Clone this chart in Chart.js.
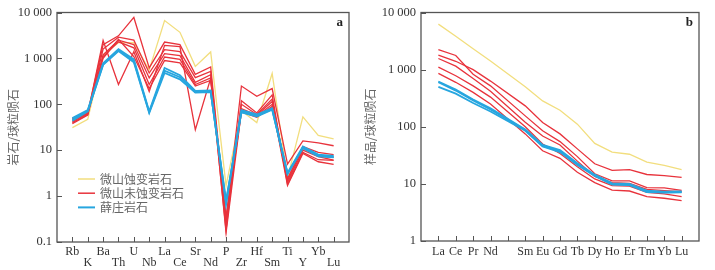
<!DOCTYPE html>
<html>
<head>
<meta charset="utf-8">
<title>微山 / 薛庄 岩石 微量元素蛛网图与稀土配分图</title>
<script src="https://cdn.jsdelivr.net/npm/chart.js@4.4.1/dist/chart.umd.min.js"></script>
<style>
  body { margin: 0; background: #fff; }
  #wrap { position: relative; width: 715px; height: 270px; }
  #spider { position: absolute; left: 0; top: 0; }
  #ree { position: absolute; left: 355px; top: 0; }
</style>
</head>
<body>
<div id="wrap">
  <canvas id="spider" width="355" height="270"></canvas>
  <canvas id="ree" width="360" height="270"></canvas>
</div>
<script>
/* Javascript for the two chondrite-normalised plots
******************************************
*/

// panel a: spider diagram
const spiderElements = ['Rb', 'K', 'Ba', 'Th', 'U', 'Nb', 'La', 'Ce', 'Sr', 'Nd', 'P', 'Zr', 'Hf', 'Sm', 'Ti', 'Y', 'Yb', 'Lu'];
const spiderTicks = [0.1, 1, 10, 100, 1000, 10000];

const weishanAltSpider = [31, 47, 1200, 2200, 2200, 560, 6700, 3700, 670, 1380, 1.7, 72, 40, 470, 2.5, 53, 21, 17.6];
const weishanFreshSpider = [
    [50, 65, 2000, 3100, 7800, 620, 2270, 2000, 450, 650, 0.3, 250, 150, 220, 5, 16, 14.5, 12.5],
    [45, 62, 2450, 270, 1400, 190, 1920, 1800, 28, 370, 0.18, 120, 65, 160, 1.8, 9, 6.2, 6],
    [40, 60, 1600, 2900, 2500, 480, 1550, 1400, 380, 520, 0.25, 100, 60, 130, 2, 10, 7.2, 6.1],
    [38, 58, 1200, 2500, 2000, 375, 1270, 1150, 300, 440, 0.16, 72, 55, 100, 1.7, 8.5, 5.6, 4.9],
    [42, 64, 1100, 2300, 1700, 270, 1070, 950, 270, 375, 0.3, 68, 52, 90, 2.2, 11, 7.5, 7],
    [48, 66, 1000, 2600, 1100, 220, 900, 800, 250, 330, 0.35, 80, 58, 115, 2.4, 12, 9, 8]
];
const xuezhuangSpider = [
    [50, 75, 780, 1600, 950, 70, 620, 430, 195, 200, 0.65, 75, 60, 82, 3.2, 12, 8, 7.5],
    [46, 72, 740, 1500, 880, 67, 540, 390, 185, 190, 0.75, 70, 56, 78, 3.0, 11.5, 7.6, 7.2],
    [44, 70, 720, 1450, 820, 65, 480, 350, 180, 185, 0.8, 67, 54, 76, 3.1, 11, 7.3, 7]
];

// panel b: REE pattern (empty slot = Pm)
const reeElements = ['La', 'Ce', 'Pr', 'Nd', '', 'Sm', 'Eu', 'Gd', 'Tb', 'Dy', 'Ho', 'Er', 'Tm', 'Yb', 'Lu'];
const reeTicks = [1, 10, 100, 1000, 10000];

const weishanAltRee = [6260, 3840, 2320, 1415, null, 500, 283, 195, 111, 51, 36, 33, 24, 21, 17.7];
const weishanFreshRee = [
    [2245, 1770, 830, 520, null, 155, 85, 55, 30, 15, 11.3, 11.3, 8.6, 8.5, 7.7],
    [1790, 1400, 1000, 630, null, 232, 119, 75, 41, 22.5, 17.2, 17.8, 14.6, 14, 13],
    [1565, 1150, 700, 420, null, 120, 69, 48, 25, 13.5, 10.5, 10.2, 8, 7.6, 7.3],
    [1105, 780, 520, 330, null, 100, 50, 34, 20, 12.2, 9.3, 9.1, 7.1, 6.7, 6],
    [860, 600, 400, 250, null, 75, 38, 28, 16, 10.5, 7.8, 7.5, 6, 5.6, 5.1]
];
const xuezhuangRee = [
    [620, 450, 300, 210, null, 90, 48, 39, 23, 14.5, 10.2, 10, 7.6, 7.3, 7.4],
    [600, 430, 290, 200, null, 88, 46, 37, 22, 14, 9.9, 9.7, 7.3, 7.1, 7.2],
    [500, 380, 260, 185, null, 85, 45, 36, 21.5, 13.8, 9.7, 9.5, 7.2, 7, 7.1]
];

const groupNames = ['微山蚀变岩石', '微山未蚀变岩石', '薛庄岩石'];
const groupColors = ['#f2de7e', '#e8333c', '#27a6df'];

const serif = '"Liberation Serif", "DejaVu Serif", serif';
const cjk = '"Noto Sans CJK SC", sans-serif';

function formatTick(v) {
    return String(v).replace(/\B(?=(\d{3})+(?!\d))/g, ' ');
}

function toPoints(values) {
    return values.map((v, i) => ({ x: i, y: v }));
}

function buildDatasets(alt, fresh, xz) {
    const sets = [];
    sets.push({ label: groupNames[0], data: toPoints(alt), borderColor: groupColors[0], borderWidth: 1.3, order: 3 });
    fresh.forEach((row) => {
        sets.push({ label: groupNames[1], data: toPoints(row), borderColor: groupColors[1], borderWidth: 1.3, order: 2 });
    });
    xz.forEach((row) => {
        sets.push({ label: groupNames[2], data: toPoints(row), borderColor: groupColors[2], borderWidth: 1.8, order: 1 });
    });
    return sets;
}

// frame, inward tick marks, panel letter and the legend inside the plot
const framePlugin = {
    id: 'frame',
    afterDraw(chart, args, opts) {
        const ctx = chart.ctx;
        const a = chart.chartArea;
        const xs = chart.scales.x;
        const ys = chart.scales.y;
        ctx.save();
        ctx.strokeStyle = '#555';
        ctx.lineWidth = 1.3;
        ctx.strokeRect(a.left, a.top, a.right - a.left, a.bottom - a.top);
        ctx.beginPath();
        xs.ticks.forEach((t) => {
            const px = Math.round(xs.getPixelForValue(t.value)) + 0.5;
            ctx.moveTo(px, a.bottom);
            ctx.lineTo(px, a.bottom - 5);
        });
        ys.ticks.forEach((t) => {
            const py = Math.round(ys.getPixelForValue(t.value)) + 0.5;
            ctx.moveTo(a.left, py);
            ctx.lineTo(a.left + 5, py);
        });
        ctx.lineWidth = 1;
        ctx.stroke();

        ctx.fillStyle = '#222';
        ctx.font = 'bold 13px ' + serif;
        ctx.textAlign = 'right';
        ctx.textBaseline = 'middle';
        ctx.fillText(opts.letter, a.right - 6, a.top + 10);

        if (opts.legend) {
            ctx.font = '12px ' + cjk;
            ctx.textAlign = 'left';
            groupNames.forEach((name, i) => {
                const y = opts.legend.y + i * opts.legend.step;
                ctx.strokeStyle = groupColors[i];
                ctx.lineWidth = i == 2 ? 2 : 1.5;
                ctx.beginPath();
                ctx.moveTo(opts.legend.x, y);
                ctx.lineTo(opts.legend.x + 17, y);
                ctx.stroke();
                ctx.fillStyle = '#666';
                ctx.fillText(name, opts.legend.x + 22, y);
            });
        }
        ctx.restore();
    }
};

function initChart(target, cfg) {
    return new Chart(target, {
        type: 'line',
        data: { datasets: cfg.datasets },
        plugins: [framePlugin],
        options: {
            responsive: false,
            animation: false,
            devicePixelRatio: 1,
            spanGaps: true,
            elements: { point: { radius: 0 }, line: { tension: 0 } },
            layout: { padding: { top: 11, right: cfg.padRight, bottom: 0, left: 0 } },
            plugins: {
                legend: { display: false },
                tooltip: { enabled: false },
                frame: { letter: cfg.letter, legend: cfg.legend }
            },
            scales: {
                x: {
                    type: 'linear',
                    min: -1,
                    max: cfg.labels.length,
                    grid: { display: false, drawTicks: false },
                    border: { display: false },
                    afterBuildTicks: (axis) => { axis.ticks = cfg.labels.map((n, i) => ({ value: i })); },
                    afterFit: (scale) => { scale.height = cfg.xHeight; },
                    ticks: {
                        autoSkip: false,
                        maxRotation: 0,
                        padding: cfg.xPad,
                        color: '#333',
                        font: { family: serif, size: 12, lineHeight: cfg.xLine },
                        callback: cfg.xLabel
                    }
                },
                y: {
                    type: 'logarithmic',
                    min: cfg.yTicks[0],
                    max: cfg.yTicks[cfg.yTicks.length - 1],
                    grid: { display: false, drawTicks: false },
                    border: { display: false },
                    afterBuildTicks: (axis) => { axis.ticks = cfg.yTicks.map((v) => ({ value: v })); },
                    afterFit: (scale) => { scale.width = cfg.yWidth; },
                    ticks: {
                        padding: 5,
                        color: '#333',
                        font: { family: serif, size: 12.5 },
                        callback: (v) => formatTick(v)
                    },
                    title: {
                        display: true,
                        text: cfg.yTitle,
                        color: '#666',
                        font: { family: cjk, size: 12 },
                        padding: { top: cfg.titlePad, bottom: 0 }
                    }
                }
            }
        }
    });
}

function mainEvent() {
    const spiderCanvas = document.querySelector('#spider');
    const reeCanvas = document.querySelector('#ree');

    initChart(spiderCanvas, {
        datasets: buildDatasets(weishanAltSpider, weishanFreshSpider, xuezhuangSpider),
        labels: spiderElements,
        yTicks: spiderTicks,
        yTitle: '岩石/球粒陨石',
        letter: 'a',
        legend: { x: 78, y: 179, step: 14.2 },
        padRight: 6,
        yWidth: 57,
        xHeight: 28,
        xPad: 4,
        xLine: 0.95,
        titlePad: 6,
        // alternate the element names on two rows
        xLabel: (v, i) => (i % 2 == 0 ? [spiderElements[i], ''] : ['', spiderElements[i]])
    });

    initChart(reeCanvas, {
        datasets: buildDatasets(weishanAltRee, weishanFreshRee, xuezhuangRee),
        labels: reeElements,
        yTicks: reeTicks,
        yTitle: '样品/球粒陨石',
        letter: 'b',
        legend: null,
        padRight: 16,
        yWidth: 66,
        xHeight: 29,
        xPad: 3.5,
        xLine: 1.2,
        titlePad: 8,
        xLabel: (v, i) => reeElements[i]
    });
}

document.addEventListener('DOMContentLoaded', () => mainEvent());
</script>
</body>
</html>
